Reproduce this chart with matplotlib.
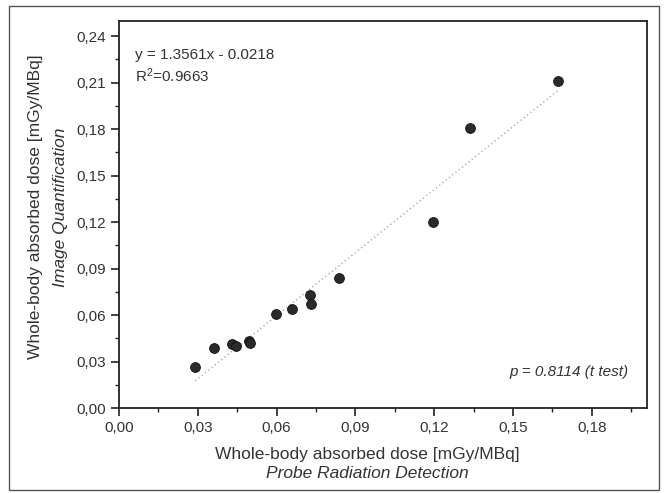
import numpy as np
import matplotlib
matplotlib.use("Agg")
import matplotlib.pyplot as plt
from matplotlib.patches import Rectangle
from matplotlib.ticker import MultipleLocator, FuncFormatter

# probe detection (x) vs image quantification (y), mGy/MBq
probe_dose = [0.0290, 0.0363, 0.0431, 0.0447, 0.0495, 0.0500, 0.0599,
              0.0657, 0.0727, 0.0731, 0.0836, 0.1196, 0.1337, 0.1671]
image_dose = [0.0262, 0.0385, 0.0413, 0.0402, 0.0430, 0.0420, 0.0604,
              0.0636, 0.0726, 0.0670, 0.0838, 0.1197, 0.1809, 0.2110]

slope, intercept = 1.3561, -0.0218
fit_text = "y = 1.3561x - 0.0218\n$\\mathregular{R^2}$=0.9663"
p_text = "p = 0.8114 (t test)"

plt.rcParams["font.family"] = ["Liberation Sans", "DejaVu Sans"]
TXT = "#333333"

fig = plt.figure(figsize=(6.67, 4.93), dpi=100)
ax = fig.add_axes([119 / 667, 1 - 408 / 493, 528 / 667, 387 / 493])

ax.scatter(probe_dose, image_dose, s=50, color="#2a2a2a", edgecolors="#111111",
           linewidths=0.6, zorder=3)

xfit = np.array([min(probe_dose), max(probe_dose)])
ax.plot(xfit, slope * xfit + intercept, linestyle=(0, (1, 2)), color="#aaaaaa",
        linewidth=1.0, zorder=2)

ax.set_xlim(0, 0.201)
ax.set_ylim(0, 0.2497)
ax.xaxis.set_major_locator(MultipleLocator(0.03))
ax.xaxis.set_minor_locator(MultipleLocator(0.015))
ax.yaxis.set_major_locator(MultipleLocator(0.03))
ax.yaxis.set_minor_locator(MultipleLocator(0.015))
comma = FuncFormatter(lambda v, pos: f"{v:.2f}".replace(".", ","))
ax.xaxis.set_major_formatter(comma)
ax.yaxis.set_major_formatter(comma)
ax.tick_params(which="both", direction="out", colors="#222222", labelcolor=TXT,
               labelsize=11)
ax.tick_params(which="major", length=6, width=1.2)
ax.tick_params(which="minor", length=3, width=1.0)
for sp in ax.spines.values():
    sp.set_linewidth(1.3)
    sp.set_color("#222222")

ax.text(0.03, 0.93, fit_text, transform=ax.transAxes, fontsize=11, color=TXT,
        va="top", ha="left", linespacing=1.3)
ax.text(0.965, 0.075, p_text, transform=ax.transAxes, fontsize=11, color=TXT,
        ha="right", va="bottom", style="italic")

fig.text(367 / 667, 1 - 454 / 493, "Whole-body absorbed dose [mGy/MBq]",
         fontsize=12.5, color=TXT, ha="center", va="center")
fig.text(367 / 667, 1 - 474 / 493, "Probe Radiation Detection",
         fontsize=12.5, color=TXT, ha="center", va="center", style="italic")
fig.text(36 / 667, 1 - 207 / 493, "Whole-body absorbed dose [mGy/MBq]",
         fontsize=12.5, color=TXT, ha="center", va="center", rotation=90)
fig.text(60 / 667, 1 - 207 / 493, "Image Quantification",
         fontsize=12.5, color=TXT, ha="center", va="center", rotation=90,
         style="italic")

fig.patches.append(Rectangle((9 / 667, 1 - 490 / 493), 650 / 667, 484 / 493,
                             transform=fig.transFigure, fill=False,
                             edgecolor="#555555", linewidth=1.0))

fig.savefig("out.png", dpi=100, facecolor="white")
